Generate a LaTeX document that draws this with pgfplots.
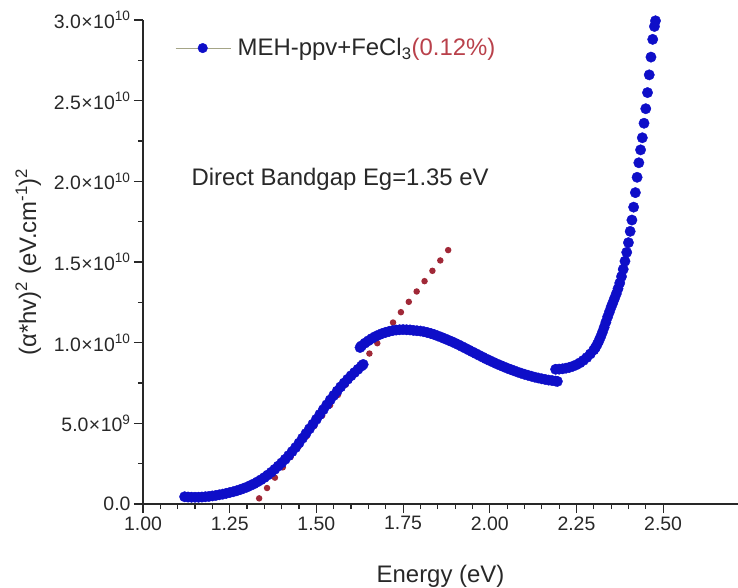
\documentclass[border=0pt]{standalone}
\usepackage{pgfplots}
\pgfplotsset{compat=1.18}
\usepackage{fontspec}
\setmainfont{Liberation Sans}
\definecolor{ptblue}{RGB}{14,14,200}
\definecolor{fitred}{RGB}{160,40,55}
\definecolor{legred}{RGB}{185,65,75}
\definecolor{legline}{RGB}{165,165,135}
\definecolor{axgray}{RGB}{40,40,40}
\begin{document}
\begin{tikzpicture}
\useasboundingbox (0,0) rectangle (738bp,588bp);
\begin{axis}[
  at={(143bp,84bp)}, anchor=south west,
  scale only axis, width=595bp, height=484bp,
  xmin=1, xmax=2.716, ymin=0, ymax=3e10,
  axis lines=left,
  axis line style={-, line width=1.3bp, axgray},
  xtick={1,1.25,1.5,1.75,2,2.25,2.5},
  xticklabels={1.00,1.25,1.50,1.75,2.00,2.25,2.50},
  minor x tick num=4,
  ytick={0,5e9,1e10,1.5e10,2e10,2.5e10,3e10},
  yticklabels={0.0,5.0{\kern0.5bp}×{\kern0.5bp}10\textsuperscript{9},1.0{\kern0.5bp}×{\kern0.5bp}10\textsuperscript{10},1.5{\kern0.5bp}×{\kern0.5bp}10\textsuperscript{10},2.0{\kern0.5bp}×{\kern0.5bp}10\textsuperscript{10},2.5{\kern0.5bp}×{\kern0.5bp}10\textsuperscript{10},3.0{\kern0.5bp}×{\kern0.5bp}10\textsuperscript{10}},
  minor y tick num=1,
  scaled y ticks=false,
  tick align=outside,
  major tick length=9bp, minor tick length=5bp,
  tick style={axgray, line width=1.1bp},
  tick label style={font=\fontsize{19.5}{22}\selectfont, text=axgray},
  /pgf/number format/assume math mode=true,
  label style={font=\fontsize{24}{28}\selectfont, text=axgray},
  xlabel={Energy (eV)},
  ylabel={(α*hv)\textsuperscript{2} (eV.cm\textsuperscript{-1})\textsuperscript{2}},
  xlabel style={at={(axis description cs:0.5,-0.162)}, anchor=base},
  ylabel style={at={(axis description cs:-0.193,0.5)}, anchor=center},
  legend style={at={(0.054,0.942)}, anchor=west, draw=none, fill=none,
    font=\fontsize{24}{28}\selectfont, inner sep=0pt, text=axgray},
  legend cell align=left,
]
\addplot[only marks, mark=*, mark size=5.2bp, ptblue,
  mark options={draw=ptblue, fill=ptblue},
  legend image code/.code={\path[draw=none] (0bp,0bp) -- (60bp,0bp); \draw[draw=legline, line width=0.8bp] (0bp,0bp) -- (55bp,0bp); \fill[fill=ptblue] (27bp,0bp) circle (4.8bp);}]
coordinates {
(1.12,0.45e9) (1.13,0.43e9) (1.14,0.42e9) (1.15,0.42e9) (1.16,0.42e9) (1.17,0.43e9)
(1.18,0.45e9) (1.19,0.47e9) (1.20,0.50e9) (1.21,0.53e9) (1.22,0.57e9) (1.23,0.61e9)
(1.24,0.66e9) (1.25,0.71e9) (1.26,0.76e9) (1.27,0.82e9) (1.28,0.89e9) (1.29,0.97e9)
(1.30,1.05e9) (1.31,1.15e9) (1.32,1.25e9) (1.33,1.37e9) (1.34,1.50e9) (1.35,1.64e9)
(1.36,1.80e9) (1.37,1.97e9) (1.38,2.15e9) (1.39,2.35e9) (1.40,2.55e9) (1.41,2.77e9)
(1.42,3.00e9) (1.43,3.25e9) (1.44,3.50e9) (1.45,3.78e9) (1.46,4.08e9) (1.47,4.37e9)
(1.48,4.66e9) (1.49,4.95e9) (1.50,5.25e9) (1.51,5.55e9) (1.52,5.85e9) (1.53,6.15e9)
(1.54,6.45e9) (1.55,6.73e9) (1.56,7.00e9) (1.57,7.26e9) (1.58,7.50e9) (1.59,7.73e9)
(1.60,7.95e9) (1.61,8.15e9) (1.62,8.35e9) (1.63,8.55e9) (1.635,8.65e9)
(1.626,9.70e9) (1.63,9.80e9) (1.64,9.97e9) (1.65,10.12e9) (1.66,10.26e9) (1.67,10.38e9)
(1.68,10.48e9) (1.69,10.57e9) (1.70,10.64e9) (1.71,10.70e9) (1.72,10.75e9) (1.73,10.78e9)
(1.74,10.80e9) (1.75,10.81e9) (1.76,10.80e9) (1.77,10.79e9) (1.78,10.76e9) (1.79,10.74e9)
(1.80,10.72e9) (1.81,10.68e9) (1.82,10.63e9) (1.83,10.57e9) (1.84,10.50e9) (1.85,10.42e9)
(1.86,10.34e9) (1.87,10.25e9) (1.88,10.16e9) (1.89,10.07e9) (1.90,9.97e9) (1.91,9.87e9)
(1.92,9.76e9) (1.93,9.65e9) (1.94,9.54e9) (1.95,9.43e9) (1.96,9.32e9) (1.97,9.21e9)
(1.98,9.10e9) (1.99,8.99e9) (2.00,8.89e9) (2.01,8.79e9) (2.02,8.69e9) (2.03,8.60e9)
(2.04,8.51e9) (2.05,8.42e9) (2.06,8.34e9) (2.07,8.26e9) (2.08,8.18e9) (2.09,8.11e9)
(2.10,8.04e9) (2.11,7.98e9) (2.12,7.92e9) (2.13,7.86e9) (2.14,7.81e9) (2.15,7.76e9)
(2.16,7.72e9) (2.17,7.68e9) (2.18,7.65e9) (2.19,7.62e9) (2.195,7.60e9)
(2.19,8.35e9) (2.20,8.36e9) (2.21,8.38e9) (2.22,8.42e9) (2.23,8.47e9) (2.24,8.54e9)
(2.25,8.63e9) (2.26,8.75e9) (2.27,8.90e9) (2.28,9.08e9) (2.29,9.30e9)
(2.300,9.55e9) (2.305,9.70e9) (2.310,9.90e9) (2.315,10.12e9) (2.320,10.37e9)
(2.325,10.65e9) (2.330,10.95e9) (2.335,11.27e9) (2.340,11.60e9) (2.345,11.90e9)
(2.350,12.20e9) (2.355,12.47e9) (2.360,12.75e9) (2.365,13.03e9) (2.370,13.35e9)
(2.375,13.70e9) (2.380,14.10e9) (2.385,14.55e9) (2.390,15.05e9) (2.395,15.60e9)
(2.400,16.20e9) (2.405,16.90e9) (2.410,17.60e9) (2.415,18.40e9) (2.420,19.30e9)
(2.425,20.25e9) (2.430,21.15e9) (2.435,21.95e9) (2.440,22.70e9) (2.445,23.60e9)
(2.450,24.50e9) (2.455,25.50e9) (2.460,26.60e9) (2.465,27.70e9) (2.470,28.80e9)
(2.475,29.60e9) (2.478,29.95e9)
};
\addlegendentry{MEH-ppv+FeCl\textsubscript{3}\textcolor{legred}{(0.12\%)}}
\addplot[fitred, line width=6.5bp, line cap=round, dash pattern=on 0bp off 13bp, forget plot]
coordinates {(1.335,0.35e9) (1.893,16.1e9)};
\node[anchor=west, font=\fontsize{24}{28}\selectfont, text=axgray] at (axis cs:1.13,2.01e10) {Direct Bandgap Eg=1.35 eV};
\end{axis}
\end{tikzpicture}
\end{document}
